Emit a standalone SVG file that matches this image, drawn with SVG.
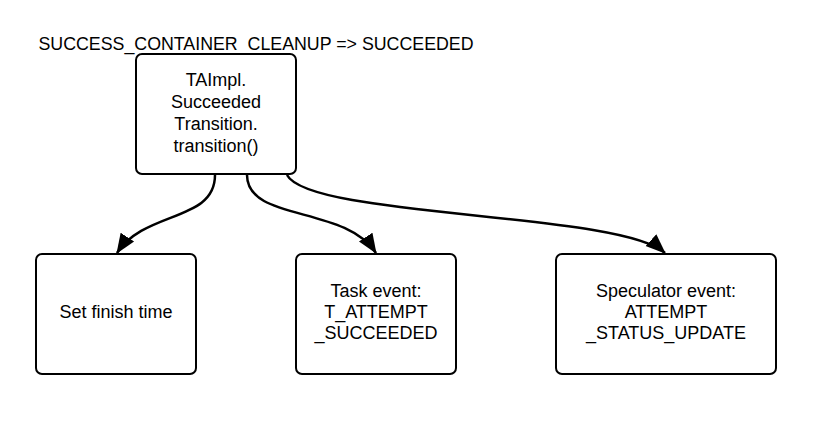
<svg xmlns="http://www.w3.org/2000/svg" width="825" height="423" viewBox="0 0 825 423">
<style>
.box{fill:#fff;stroke:#000;stroke-width:2}
.t{font-family:"Liberation Sans",Arial,sans-serif;font-size:18px;fill:#000;text-anchor:middle}
.c{fill:none;stroke:#000;stroke-width:2.5}
</style>
<defs>
<marker id="ah" markerUnits="userSpaceOnUse" markerWidth="20" markerHeight="18" viewBox="0 0 20 18" refX="19" refY="9" orient="auto">
<path d="M0,1 L20,9 L0,17 Z" fill="#000"/>
</marker>
</defs>
<rect width="825" height="423" fill="#fff"/>
<text class="t" x="256" y="50" style="font-size:17.8px">SUCCESS_CONTAINER_CLEANUP =&gt; SUCCEEDED</text>
<g id="connectors">
<path class="c" d="M215,175 C215,222 145,210 117,253" marker-end="url(#ah)"/>
<path class="c" d="M247,175 C247,222 345,205 376,253" marker-end="url(#ah)"/>
<path class="c" d="M287,175 C310,218 620,212 665,253" marker-end="url(#ah)"/>
</g>
<g id="n_top">
<rect class="box" x="136" y="54" width="160" height="120" rx="6"/>
<text class="t" x="216" y="86">TAImpl.</text>
<text class="t" x="216" y="108">Succeeded</text>
<text class="t" x="216" y="130">Transition.</text>
<text class="t" x="216" y="152">transition()</text>
</g>
<g id="n_finish">
<rect class="box" x="36" y="254" width="160" height="120" rx="6"/>
<text class="t" x="116" y="318">Set finish time</text>
</g>
<g id="n_task">
<rect class="box" x="296" y="254" width="160" height="120" rx="6"/>
<text class="t" x="376" y="297">Task event:</text>
<text class="t" x="376" y="318">T_ATTEMPT</text>
<text class="t" x="376" y="339">_SUCCEEDED</text>
</g>
<g id="n_spec">
<rect class="box" x="556" y="254" width="220" height="120" rx="6"/>
<text class="t" x="666" y="297">Speculator event:</text>
<text class="t" x="666" y="318">ATTEMPT</text>
<text class="t" x="666" y="339">_STATUS_UPDATE</text>
</g>
</svg>
